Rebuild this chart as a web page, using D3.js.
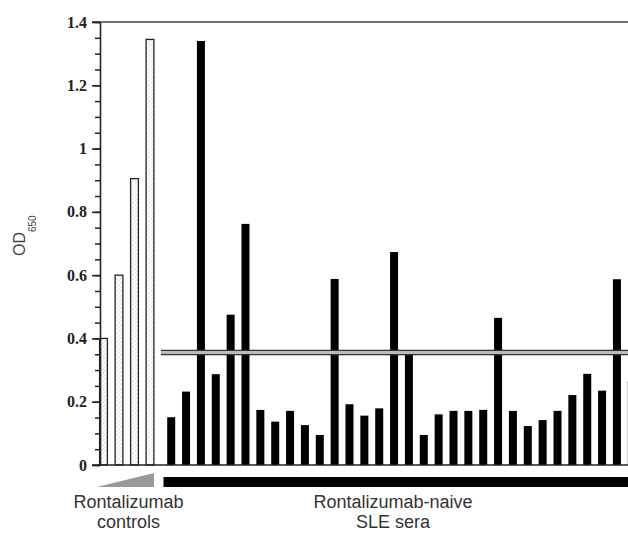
<!DOCTYPE html>
<html>
<head>
<meta charset="utf-8">
<script src="https://cdn.jsdelivr.net/npm/d3@7"></script>
<style>
  body { margin: 0; background: #fff; }
  svg { display: block; }
</style>
</head>
<body>
<svg id="chart"></svg>
<script>
// OD650 values
const controlValues = [0.40, 0.60, 0.905, 1.345];
const sampleValues = [0.151, 0.232, 1.34, 0.287, 0.475, 0.762, 0.174, 0.137, 0.171, 0.126,
    0.095, 0.588, 0.192, 0.156, 0.179, 0.673, 0.353, 0.095, 0.160, 0.171,
    0.171, 0.174, 0.465, 0.171, 0.123, 0.142, 0.171, 0.221, 0.288, 0.235,
    0.587, 0.264];
const yTicks = [0, 0.2, 0.4, 0.6, 0.8, 1, 1.2, 1.4];
const yMinorTicks = d3.range(0, 29).map(i => i * 0.05);
const thresholdBand = [0.349, 0.362];
const groupLabels = [["Rontalizumab", "controls"], ["Rontalizumab-naive", "SLE sera"]];

const width = 628, height = 533;
const svg = d3.select("#chart").attr("width", width).attr("height", height);

const y = d3.scaleLinear().domain([0, 1.4]).range([465, 22]);
const xControl = d3.scaleLinear().domain([0, 3]).range([103.5, 150]);
const xSample = d3.scaleLinear().domain([0, 31]).range([171.2, 631.8]);
const barW = 7.8;

// hatch pattern for control bars
const defs = svg.append("defs");
defs.append("pattern")
    .attr("id", "hatch")
    .attr("patternUnits", "userSpaceOnUse")
    .attr("width", 3).attr("height", 3)
    .attr("patternTransform", "rotate(45)")
    .append("line")
    .attr("x1", 0).attr("y1", 0).attr("x2", 0).attr("y2", 3)
    .attr("stroke", "#c8c8c8").attr("stroke-width", 1);

// top frame line
svg.append("line")
    .attr("x1", 92).attr("x2", width)
    .attr("y1", y(1.4)).attr("y2", y(1.4))
    .attr("stroke", "#444").attr("stroke-width", 1.6);

// control bars
svg.append("g").selectAll("rect")
    .data(controlValues)
    .join("rect")
    .attr("x", (d, i) => xControl(i) - barW / 2)
    .attr("y", d => y(d))
    .attr("width", barW)
    .attr("height", d => y(0) - y(d))
    .attr("fill", "url(#hatch)")
    .attr("stroke", "#222")
    .attr("stroke-width", 1.3);

// sample bars
svg.append("g").selectAll("rect")
    .data(sampleValues)
    .join("rect")
    .attr("x", (d, i) => xSample(i) - 4)
    .attr("y", d => y(d))
    .attr("width", 8)
    .attr("height", d => y(0) - y(d))
    .attr("fill", "#000");

// threshold double line
const band = svg.append("g");
band.append("rect")
    .attr("x", 161).attr("width", width - 161)
    .attr("y", y(thresholdBand[1]))
    .attr("height", y(thresholdBand[0]) - y(thresholdBand[1]))
    .attr("fill", "#bbb");
thresholdBand.forEach(v => {
    band.append("line")
        .attr("x1", 161).attr("x2", width)
        .attr("y1", y(v)).attr("y2", y(v))
        .attr("stroke", "#333").attr("stroke-width", 1.2);
});

// y axis, minor ticks then major ticks
svg.append("g")
    .attr("transform", "translate(100,0)")
    .call(d3.axisLeft(y).tickValues(yMinorTicks).tickSize(5).tickFormat(""))
    .call(g => g.select(".domain").remove())
    .selectAll("line").attr("stroke", "#222").attr("stroke-width", 1.5);

const yAxis = svg.append("g")
    .attr("transform", "translate(100,0)")
    .call(d3.axisLeft(y).tickValues(yTicks).tickSize(8).tickSizeOuter(0).tickPadding(5)
        .tickFormat(d => d3.format("")(+d.toFixed(1))));
yAxis.select(".domain").attr("stroke", "#222").attr("stroke-width", 1.6);
yAxis.selectAll(".tick line").attr("stroke", "#222").attr("stroke-width", 1.6);
yAxis.selectAll(".tick text")
    .style("font-family", "'Liberation Serif', 'Times New Roman', serif")
    .style("font-weight", "bold")
    .style("font-size", "16px")
    .attr("fill", "#222");

// x baseline
svg.append("line")
    .attr("x1", 92).attr("x2", width)
    .attr("y1", y(0)).attr("y2", y(0))
    .attr("stroke", "#222").attr("stroke-width", 1.6);

// y label OD650
const yLabel = svg.append("text")
    .attr("transform", "translate(25,256) rotate(-90)")
    .style("font-family", "'Liberation Sans', Arial, sans-serif")
    .attr("fill", "#444");
yLabel.append("tspan").attr("font-size", 16).text("OD");
yLabel.append("tspan").attr("font-size", 10).attr("dy", 11).text("650");

// group markers: grey wedge for controls, black bar for sera
svg.append("path")
    .attr("d", d3.line()([[97, 487], [154, 473], [154, 487]]) + "Z")
    .attr("fill", "#999");
svg.append("rect")
    .attr("x", 163.5).attr("y", 477)
    .attr("width", width - 163.5).attr("height", 10)
    .attr("fill", "#000");

// group labels
const labelX = [128.5, 393];
groupLabels.forEach((lines, gi) => {
    const t = svg.append("text")
        .attr("text-anchor", "middle")
        .style("font-family", "'Liberation Sans', Arial, sans-serif")
        .attr("font-size", 18)
        .attr("fill", "#333");
    lines.forEach((s, li) => {
        t.append("tspan")
            .attr("x", labelX[gi])
            .attr("y", 508 + li * 20)
            .text(s);
    });
});
</script>
</body>
</html>
